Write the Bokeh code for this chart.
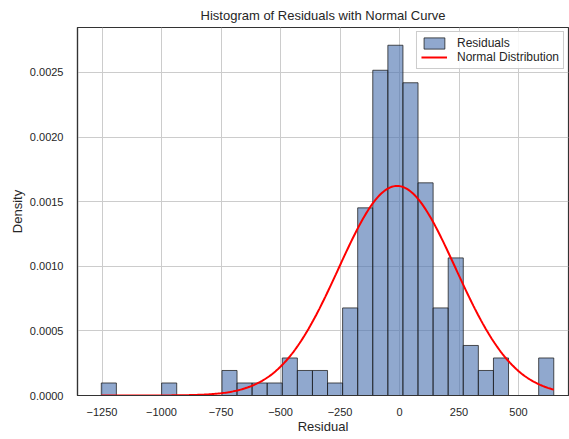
import numpy as np
from bokeh.plotting import figure
from bokeh.models import FixedTicker, NumeralTickFormatter, Range1d, Legend, LegendItem, ColumnDataSource
from bokeh.embed import file_html
from bokeh.resources import INLINE

# Histogram data (30 bins)
bin_min = -1253.0
bin_width = 63.37
counts = [1, 0, 0, 0, 1, 0, 0, 0, 2, 1,
          1, 1, 3, 2, 2, 1, 7, 15, 26, 28,
          25, 17, 7, 11, 4, 2, 3, 0, 0, 3]
# Normal fit parameters
mu = -10.0
sigma = 246.0
x_ticks = [-1250, -1000, -750, -500, -250, 0, 250, 500]
y_ticks = [0.0, 0.0005, 0.0010, 0.0015, 0.0020, 0.0025]

n = sum(counts)
lefts = np.array([bin_min + i * bin_width for i in range(len(counts))])
rights = lefts + bin_width
dens = np.array(counts) / (n * bin_width)

FONT = "Liberation Sans"
TXT = "#262626"

p = figure(width=569, height=439, output_backend="svg", toolbar_location=None,
           x_range=Range1d(-1353, 710), y_range=Range1d(0, 0.002848),
           title="Histogram of Residuals with Normal Curve",
           min_border_left=77, min_border_right=1, min_border_bottom=44, min_border_top=24)

p.title.align = "center"
p.title.text_font = FONT
p.title.text_font_size = "13px"
p.title.text_font_style = "normal"
p.title.text_color = TXT
p.title.offset = 0

src = ColumnDataSource(dict(left=lefts, right=rights, top=dens, bottom=np.zeros(len(counts))))
bars = p.quad(left="left", right="right", top="top", bottom="bottom", source=src,
              fill_color="#4C72B0", fill_alpha=0.62, line_color="#1a1a1a", line_alpha=0.75, line_width=1)

xs = np.linspace(bin_min, bin_min + bin_width * len(counts), 300)
ys = np.exp(-0.5 * ((xs - mu) / sigma) ** 2) / (sigma * np.sqrt(2 * np.pi))
line = p.line(xs, ys, line_color="red", line_width=2)

p.xaxis.ticker = FixedTicker(ticks=x_ticks)
p.yaxis.ticker = FixedTicker(ticks=y_ticks)
p.yaxis.formatter = NumeralTickFormatter(format="0.0000")
for ax in (p.xaxis, p.yaxis):
    ax.major_tick_line_color = None
    ax.minor_tick_line_color = None
    ax.axis_line_color = "#333333"
    ax.axis_line_width = 1.2
    ax.major_label_text_font = FONT
    ax.major_label_text_font_size = "11px"
    ax.major_label_text_color = TXT
    ax.axis_label_text_font = FONT
    ax.axis_label_text_font_size = "13px"
    ax.axis_label_text_font_style = "normal"
    ax.axis_label_text_color = TXT
p.xaxis.axis_label = "Residual"
p.yaxis.axis_label = "Density"
p.xaxis.major_label_standoff = 6
p.yaxis.major_label_standoff = 8
p.xaxis.axis_label_standoff = 0
p.yaxis.axis_label_standoff = 2

p.grid.grid_line_color = "#cccccc"
p.grid.grid_line_width = 1
p.outline_line_color = "#333333"
p.outline_line_width = 1.2
p.background_fill_color = "white"
p.border_fill_color = "white"

legend = Legend(items=[LegendItem(label="Residuals", renderers=[bars]),
                       LegendItem(label="Normal Distribution", renderers=[line])],
                location="top_right")
legend.label_text_font = FONT
legend.label_text_font_size = "12px"
legend.label_text_color = TXT
legend.border_line_color = "#cccccc"
legend.border_line_alpha = 1
legend.background_fill_alpha = 0.85
legend.margin = 4
legend.padding = 4
legend.spacing = 0
legend.glyph_width = 26
legend.glyph_height = 14
legend.label_height = 14
legend.label_standoff = 10
p.add_layout(legend)

open("out.html", "w").write(file_html(p, INLINE))
